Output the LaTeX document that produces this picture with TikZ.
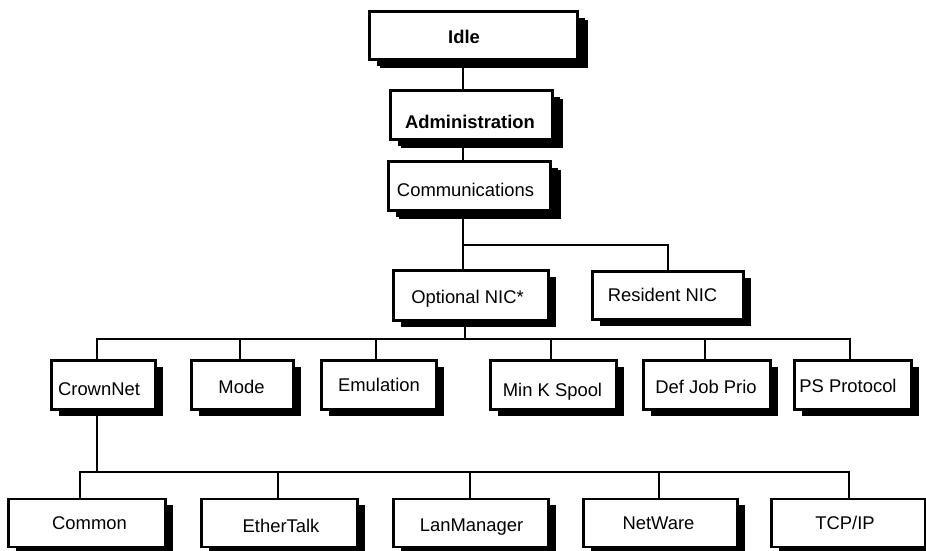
\documentclass[tikz,border=0pt]{standalone}
\usepackage{fontspec}
\setmainfont{Liberation Sans}
\usetikzlibrary{shadows,calc}
\tikzset{
  box/.style={draw=black, fill=white, line width=2.8pt, inner sep=0pt,
    minimum height=49pt, font=\fontsize{18.4}{22}\selectfont,
    text height=13.2pt, text depth=0pt,
    drop shadow={shadow xshift=7pt, shadow yshift=-6pt, opacity=1, fill=black}},
  topbox/.style={box,
    drop shadow={shadow xshift=10pt, shadow yshift=-8pt, opacity=1, fill=black}},
  boldtext/.style={font=\fontsize{18.4}{22}\selectfont\bfseries},
  vsh/.style={text height=#1, text depth=0pt},
  link/.style={line width=2.5pt, line cap=rect}
}
\newcommand{\tsh}[2]{\hspace*{#1}#2}
\begin{document}
\begin{tikzpicture}[x=1pt, y=-1pt]
\useasboundingbox (0,0) rectangle (926,550);
% top tier
\node[topbox, boldtext, vsh=15.2pt, minimum width=208pt, minimum height=48pt] (idle) at (473.5,35.5) {\tsh{-19pt}{Idle}};
\node[topbox, boldtext, vsh=26.2pt, minimum width=162pt, minimum height=49pt] (admin) at (471.5,115) {\tsh{-3pt}{Administration}};
\node[topbox, vsh=21.2pt, minimum width=162pt, minimum height=49pt] (comm) at (469.5,186) {\tsh{-8pt}{Communications}};
% second tier
\node[box, vsh=16.2pt, minimum width=155pt, minimum height=50pt] (optnic) at (471,295.5) {\tsh{-7pt}{Optional NIC*}};
\node[box, text height=13.2pt, text depth=2pt, minimum width=151pt, minimum height=48pt] (resnic) at (668,295.5) {\tsh{-11pt}{Resident NIC}};
% third tier
\node[box, vsh=20.2pt, minimum width=104pt] (crown) at (103.5,385) {\tsh{-9pt}{CrownNet}};
\node[box, vsh=16.2pt, minimum width=102pt] (mode) at (242.5,385) {\tsh{-2pt}{Mode}};
\node[box, minimum width=115pt] (emul) at (379,385) {Emulation};
\node[box, vsh=23.2pt, minimum width=126pt] (mink) at (553.5,385) {\tsh{-2pt}{Min K Spool}};
\node[box, vsh=17.2pt, minimum width=127pt] (defjob) at (707,385) {\tsh{-2pt}{Def Job Prio}};
\node[box, vsh=15.2pt, minimum width=117pt] (psprot) at (853,385) {\tsh{-10pt}{PS Protocol}};
% fourth tier
\node[box, minimum width=157pt, minimum height=48pt] (common) at (87,523) {\tsh{5pt}{Common}};
\node[box, vsh=19.2pt, minimum width=156pt, minimum height=48pt] (ether) at (279.5,523) {\tsh{3pt}{EtherTalk}};
\node[box, vsh=17.2pt, minimum width=155pt, minimum height=48pt] (lanman) at (471,523) {\tsh{1pt}{LanManager}};
\node[box, minimum width=154pt, minimum height=48pt] (netware) at (660.5,523) {\tsh{-4pt}{NetWare}};
\node[box, minimum width=154pt, minimum height=48pt] (tcpip) at (848.5,523) {\tsh{-7pt}{TCP/IP}};
% junction coordinates
\coordinate (trunk) at (463,0);
\coordinate (busA) at (0,245);
\coordinate (busB) at (0,339);
\coordinate (busC) at (0,472);
\coordinate (optx) at (465,0);
\coordinate (crownx) at (97,0);
\coordinate (commonx) at (80,0);
\coordinate (modex) at (240,0);
\coordinate (emulx) at (376,0);
\coordinate (minkx) at (551,0);
\coordinate (defjobx) at (705,0);
\coordinate (psprotx) at (850,0);
\coordinate (etherx) at (278,0);
\coordinate (lanmanx) at (470,0);
\coordinate (netwarex) at (659,0);
\coordinate (tcpipx) at (849,0);
% connectors
\draw[link] (idle.south -| trunk) -- (admin.north -| trunk);
\draw[link] (admin.south -| trunk) -- (comm.north -| trunk);
\draw[link] (comm.south -| trunk) -- (optnic.north -| trunk);
\draw[link] (busA -| trunk) -| (resnic.north);
\draw[link] (optnic.south -| optx) -- (busB -| optx);
\draw[link] (busB -| crownx) -- (busB -| psprotx);
\draw[link] (busB -| crownx) -- (crown.north -| crownx);
\draw[link] (busB -| modex) -- (mode.north -| modex);
\draw[link] (busB -| emulx) -- (emul.north -| emulx);
\draw[link] (busB -| minkx) -- (mink.north -| minkx);
\draw[link] (busB -| defjobx) -- (defjob.north -| defjobx);
\draw[link] (busB -| psprotx) -- (psprot.north -| psprotx);
\draw[link] (crown.south -| crownx) -- (busC -| crownx);
\draw[link] (busC -| commonx) -- (busC -| tcpipx);
\draw[link] (busC -| commonx) -- (common.north -| commonx);
\draw[link] (busC -| etherx) -- (ether.north -| etherx);
\draw[link] (busC -| lanmanx) -- (lanman.north -| lanmanx);
\draw[link] (busC -| netwarex) -- (netware.north -| netwarex);
\draw[link] (busC -| tcpipx) -- (tcpip.north -| tcpipx);
\end{tikzpicture}
\end{document}
